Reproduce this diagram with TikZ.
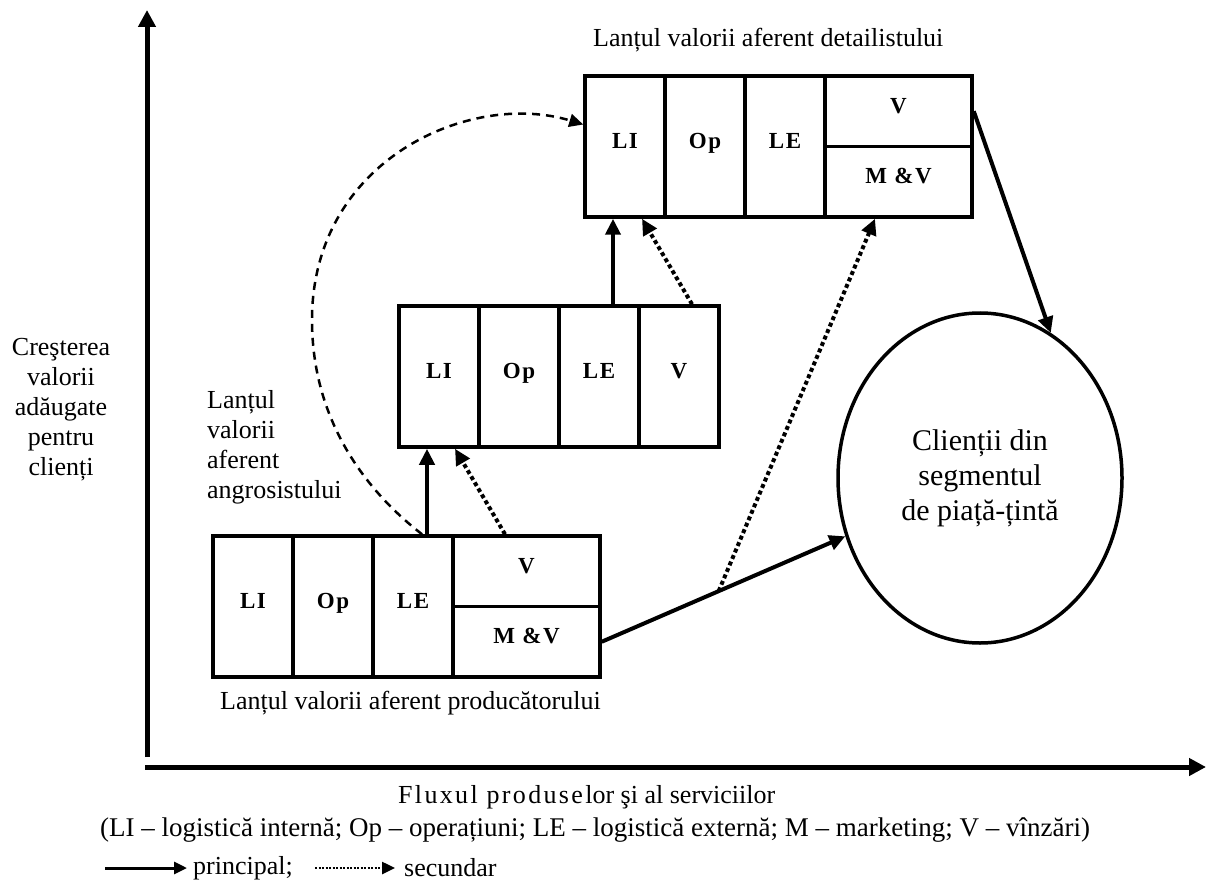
\documentclass[tikz,border=0pt]{standalone}
\usepackage{fontspec}
\setmainfont{Liberation Serif}
\newfontfamily\boxfont[LetterSpace=7]{Liberation Serif}
\newfontfamily\spacedfont[LetterSpace=9]{Liberation Serif}
\usetikzlibrary{arrows.meta,shapes.geometric,calc}

\begin{document}
\begin{tikzpicture}[x=1pt,y=-1pt,
  cell/.style={draw, line width=3.5pt, minimum width=80pt, minimum height=141pt,
    inner sep=0pt, text height=16pt, text depth=12pt,
    font=\boxfont\bfseries\fontsize{23}{26}\selectfont},
  halfcell/.style={cell, minimum width=147pt, minimum height=70.5pt},
  lbl/.style={inner sep=0pt, font=\fontsize{26}{30}\selectfont},
  axis/.style={line width=5pt, -{Triangle[length=17pt,width=17pt]}},
  main/.style={line width=4pt, -{Triangle[length=16pt,width=15pt]}},
  minor/.style={line width=4pt, dash pattern=on 4pt off 3pt, -{Triangle[length=16pt,width=15pt]}},
  link/.style={line width=2.5pt, dash pattern=on 8pt off 6pt, -{Triangle[length=14pt,width=13pt]}},
  keymain/.style={line width=3pt, -{Triangle[length=13pt,width=12pt]}},
  keyminor/.style={line width=2.5pt, dash pattern=on 2pt off 1.5pt, -{Triangle[length=13pt,width=12pt]}}]

\useasboundingbox[fill=white] (0,0) rectangle (1206,882);

% axes
\coordinate (yO) at (147,757);
\coordinate (yEnd) at (147,10);
\coordinate (xO) at (145,767);
\coordinate (xEnd) at (1206,767);
\draw[axis] (yO) -- (yEnd);
\draw[axis] (xO) -- (xEnd);

% producer chain
\node[cell] (pLI) at (253,606.5) {LI};
\node[cell] (pOp) at (333,606.5) {Op};
\node[cell] (pLE) at (413,606.5) {LE};
\node[halfcell] (pV)  at (526.5,571.25) {V};
\node[halfcell] (pMV) at (526.5,641.75) {M \&V};

% wholesaler chain
\node[cell] (mLI) at (439,376.5) {LI};
\node[cell] (mOp) at (519,376.5) {Op};
\node[cell] (mLE) at (599,376.5) {LE};
\node[cell] (mV)  at (679,376.5) {V};

% retailer chain
\node[cell] (tLI) at (625,146.5) {LI};
\node[cell] (tOp) at (705,146.5) {Op};
\node[cell] (tLE) at (785,146.5) {LE};
\node[halfcell] (tV)  at (898.5,111.25) {V};
\node[halfcell] (tMV) at (898.5,181.75) {M \&V};

% target customers
\node[ellipse, draw, line width=3.5pt, minimum width=284pt, minimum height=330pt,
  inner sep=0pt, align=center, font=\fontsize{30}{35}\selectfont]
  (ell) at (980,478) {Clienții din\\segmentul\\de piață-țintă};

% flows
\coordinate (pUp) at ([xshift=14pt]pLE.north);
\draw[main] (pUp) -- (pUp |- mLI.south);
\draw[minor] ([xshift=-21.5pt]pV.north) -- ([xshift=16pt]mLI.south);
\coordinate (mUp) at ([xshift=14pt]mLE.north);
\draw[main] (mUp) -- (mUp |- tLI.south);
\draw[minor] ([xshift=13pt]mV.north) -- ([xshift=17pt]tLI.south);
\draw[main] (pMV.east) -- (ell);
\path (pMV.east) -- (ell) coordinate[pos=0.48] (split);
\draw[minor] (split) -- ([xshift=-23.5pt]tMV.south);
\draw[main] (tV.east) -- (ell.64);

% direct link producer -> retailer
\coordinate (cA) at ([xshift=9pt]pLE.north);
\coordinate (cTurn) at (312,320);
\coordinate (cB) at ([yshift=22pt]tLI.west);
\draw[link] (cA) .. controls (365,490) and (312,420) .. (cTurn)
  .. controls (312,160) and (470,90) .. (cB);

% labels
\node[lbl, anchor=west] (detLbl) at (593,40) {Lanțul valorii aferent detailistului};
\node[lbl, anchor=west] (prodLbl) at (220,703) {Lanțul valorii aferent producătorului};
\node[lbl, anchor=west, align=left] (angLbl) at (207,447) {Lanțul\\valorii\\aferent\\angrosistului};
\node[lbl, align=center] (yLbl) at (61,410) {Creşterea\\valorii\\adăugate\\pentru\\clienți};
\node[lbl, anchor=west] (xLbl) at (398,797) {{\spacedfont Fluxul produsel}or şi al serviciilor};
\node[lbl, anchor=west, font=\fontsize{27}{30}\selectfont] (keyLbl) at (100,830)
  {(LI – logistică internă; Op – operațiuni; LE – logistică externă; M – marketing; V – vînzări)};

% key
\coordinate (k1a) at (105,868);
\coordinate (k1b) at (187,868);
\coordinate (k2a) at (315,868);
\coordinate (k2b) at (395,868);
\draw[keymain] (k1a) -- (k1b);
\draw[keyminor] (k2a) -- (k2b);
\node[lbl, anchor=west] (kMain) at (193,868) {principal;};
\node[lbl, anchor=west] (kMinor) at (404,868) {secundar};
\end{tikzpicture}
\end{document}
